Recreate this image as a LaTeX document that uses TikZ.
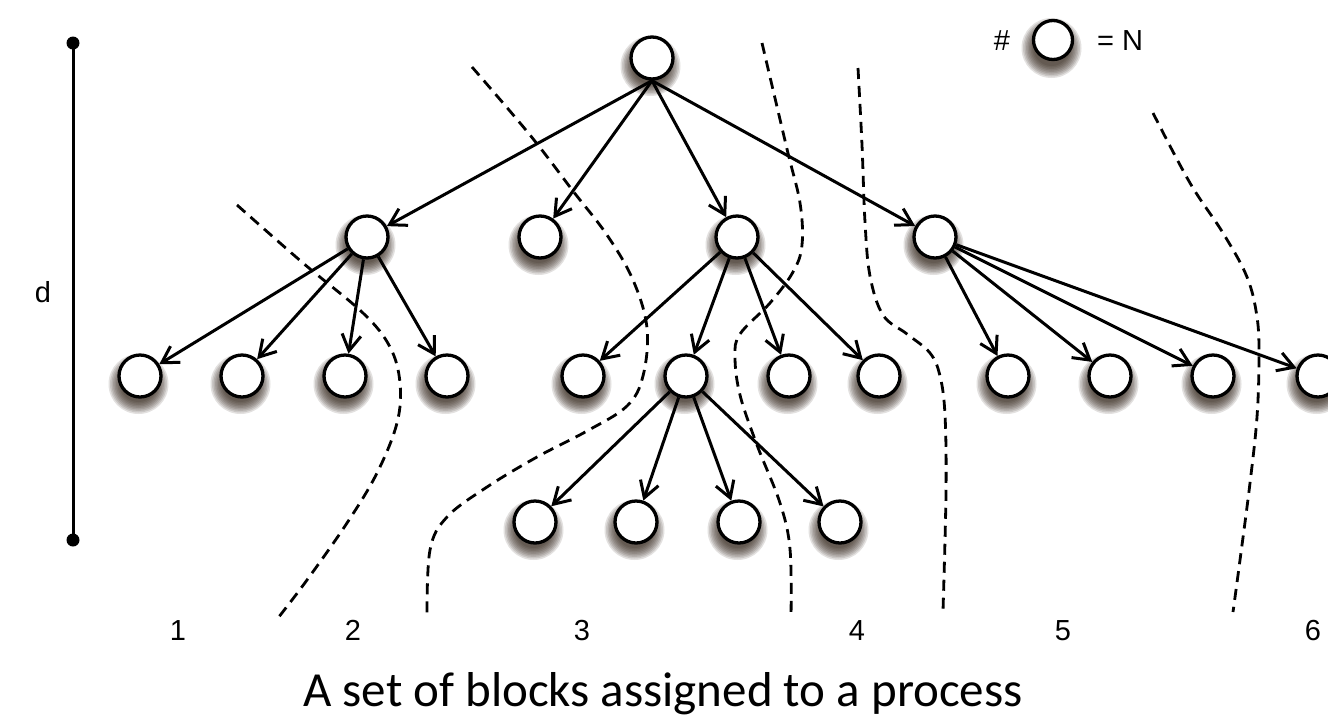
\documentclass[tikz,border=0pt]{standalone}
\usepackage{fontspec}
\newfontfamily\arialf{Liberation Sans}
\newfontfamily\calf{Carlito}
\usetikzlibrary{arrows.meta}
\definecolor{shcol}{RGB}{40,26,16}
\pgfdeclarelayer{bg}
\pgfsetlayers{bg,main}
\tikzset{
  blk/.style={circle, draw=black, line width=3.3pt, fill=white, minimum size=42pt, inner sep=0pt},
  tedge/.style={line width=3pt, -{Straight Barb[length=16pt,width=19pt]}},
  sepline/.style={line width=2.8pt, dash pattern=on 11pt off 7pt},
  lbl/.style={font=\arialf\fontsize{29}{33}\selectfont, inner sep=0pt, anchor=base},
  caption/.style={font=\calf\fontsize{49}{56}\selectfont, inner sep=0pt, anchor=base},
  enddot/.style={circle, fill=black, minimum size=13pt, inner sep=0pt},
  shlayer/.style={fill=shcol, fill opacity=0.13}
}
\begin{document}
\begin{tikzpicture}[x=1pt,y=-1pt]
\useasboundingbox (0,0) rectangle (1328,716);

% separating dashed lines
\draw[sepline] plot[smooth, tension=0.6] coordinates {(237,205) (303,263) (363,313) (390,347) (400,383) (397,423) (377,473) (347,523) (307,580) (278,618)};
\draw[sepline] plot[smooth, tension=0.6] coordinates {(472,67) (530,135) (573,191) (607,235) (633,280) (647,328) (643,376) (627,406) (587,431) (537,457) (487,487) (447,517) (430,550) (427,617)};
\draw[sepline] plot[smooth, tension=0.6] coordinates {(762,43) (787,149) (800,203) (802,245) (793,272) (770,303) (740,334) (735,357) (740,395) (757,445) (780,503) (790,549) (791,617)};
\draw[sepline] plot[smooth, tension=0.6] coordinates {(858,68) (862,145) (865,222) (870,276) (883,315) (907,334) (930,353) (940,376) (945,415) (946,492) (943,611)};
\draw[sepline] plot[smooth, tension=0.6] coordinates {(1153,113) (1190,183) (1223,233) (1247,277) (1257,317) (1259,357) (1257,417) (1250,483) (1240,560) (1233,612)};

% depth bar
\node[enddot] (dtop) at (73,43) {};
\node[enddot] (dbot) at (73,540) {};
\draw[line width=3pt] (dtop.center) -- (dbot.center);
\node[lbl] (dlab) at (43,302) {d};

% nodes
\node[blk] (root) at (652,58) {};
\node[blk] (A) at (367,237) {};
\node[blk] (B) at (540,237) {};
\node[blk] (C) at (737,237) {};
\node[blk] (D) at (935,237) {};
\node[blk] (a1) at (140,376) {};
\node[blk] (a2) at (242,376) {};
\node[blk] (a3) at (345,376) {};
\node[blk] (a4) at (447,376) {};
\node[blk] (c1) at (583,376) {};
\node[blk] (c2) at (686,376) {};
\node[blk] (c3) at (789,376) {};
\node[blk] (c4) at (879,376) {};
\node[blk] (d1) at (1008,376) {};
\node[blk] (d2) at (1110,376) {};
\node[blk] (d3) at (1213,376) {};
\node[blk] (d4) at (1318,376) {};
\node[blk] (e1) at (535,522) {};
\node[blk] (e2) at (636,522) {};
\node[blk] (e3) at (739,522) {};
\node[blk] (e4) at (840,522) {};

% legend
\node[lbl] (hash) at (1002,50) {\#};
\node[blk, minimum size=39pt] (leg) at (1053,40) {};
\node[lbl] (eqn) at (1120,50) {= N};

% soft shadows under the blocks
\begin{pgfonlayer}{bg}
\fill[white] (0,0) rectangle (1328,716);
\foreach \n in {root,A,B,C,D,a1,a2,a3,a4,c1,c2,c3,c4,d1,d2,d3,d4,e1,e2,e3,e4,leg}
  \foreach \r in {30,28.5,...,17}
    \fill[shlayer] ([shift={(-1.5,8)}]\n.center) circle (\r);
\end{pgfonlayer}

% edges
\foreach \c in {A,B,C,D} \draw[tedge] (root.south) -- (\c);
\foreach \c in {a1,a2,a3,a4} \draw[tedge] (A) -- (\c);
\foreach \c in {c1,c2,c3,c4} \draw[tedge] (C) -- (\c);
\foreach \c in {d1,d2,d3,d4} \draw[tedge] (D) -- (\c);
\foreach \c in {e1,e2,e3,e4} \draw[tedge] (c2) -- (\c);

% region numbers
\node[lbl] (n1) at (178,640) {1};
\node[lbl] (n2) at (353,640) {2};
\node[lbl] (n3) at (582,640) {3};
\node[lbl] (n4) at (857,640) {4};
\node[lbl] (n5) at (1063,640) {5};
\node[lbl] (n6) at (1313,640) {6};

\node[caption] (cap) at (663,706) {A set of blocks assigned to a process};
\end{tikzpicture}
\end{document}
